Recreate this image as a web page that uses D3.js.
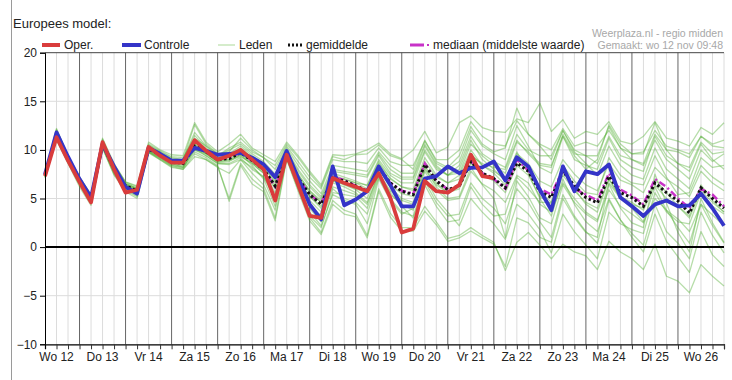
<!DOCTYPE html>
<html><head><meta charset="utf-8">
<script src="https://cdn.jsdelivr.net/npm/d3@7/dist/d3.min.js"></script>
<style>body{margin:0;background:#fff;} svg{display:block;font-family:"Liberation Sans",Arial,sans-serif;}</style>
</head><body><svg id="c" width="732" height="380"></svg>
<script>
// ---- data ----
const dayLabels = ["Wo 12","Do 13","Vr 14","Za 15","Zo 16","Ma 17","Di 18","Wo 19","Do 20","Vr 21","Za 22","Zo 23","Ma 24","Di 25","Wo 26"];
const yTicks = [20,15,10,5,0,-5,-10];
const startHour = 6, stepHours = 6, endHour = 360;
const legendLabels = ["Oper.","Controle","Leden","gemiddelde","mediaan (middelste waarde)"];
const sourceLines = ["Weerplaza.nl - regio midden","Gemaakt: wo 12 nov 09:48"];
const modelTitle = "Europees model:";

const oper = [7.3,11.3,8.9,6.7, 4.6,10.8,8.0,5.6, 5.9,10.3,9.4,8.7, 8.7,11.0,9.9,9.0, 9.4,10.0,9.0,8.0, 4.8,9.5,6.4,3.2, 3.0,7.1,6.6,6.2, 5.75,7.6,5.1,1.5, 1.9,6.8,5.75,5.6, 6.4,9.5,7.3,7.1];
const controle = [7.5,11.8,9.3,7.0, 5.1,10.6,8.3,6.2, 5.5,10.2,9.6,8.9, 8.9,10.2,9.9,9.5, 9.6,9.7,9.2,8.5, 7.2,9.9,7.1,4.4, 2.85,8.3,4.3,4.9, 5.75,8.3,6.4,4.2, 4.2,7.05,7.3,8.3, 7.6,8.15,8.2,8.8, 6.85,9.25,8.3,5.9, 3.8,8.3,5.75,7.8, 7.5,8.5,5.1,4.2, 3.2,4.4,4.8,4.2, 4.3,5.5,4.0,2.2];
const gemiddelde = [7.4,11.5,9.0,6.8, 5.0,10.6,8.0,6.3, 5.8,10.1,9.5,8.8, 8.6,10.4,9.8,9.0, 9.1,9.7,8.9,8.0, 6.3,9.35,7.1,5.4, 4.4,7.1,6.8,6.3, 5.75,8.2,6.6,5.75, 5.4,8.5,6.8,5.9, 6.3,8.8,7.6,7.05, 6.1,8.65,7.8,5.75, 5.1,7.8,6.3,5.1, 4.55,7.3,5.6,5.1, 4.2,6.6,5.6,4.75, 3.5,6.1,5.0,4.0];
const mediaan = [7.4,11.5,9.0,6.8, 5.0,10.6,8.0,6.2, 5.8,10.1,9.5,8.8, 8.6,10.3,9.8,9.0, 9.2,9.7,8.9,8.0, 6.2,9.3,7.1,5.4, 4.5,7.2,6.9,6.3, 5.8,8.2,6.6,5.8, 5.5,8.6,6.9,5.9, 6.3,8.9,7.6,7.0, 6.0,9.0,7.9,6.0, 5.4,8.0,6.0,5.4, 4.8,7.6,5.9,5.3, 4.4,7.0,6.2,5.0, 4.0,6.0,5.4,4.2];

const lid01 = [7.6,12.2,9.3,7.0, 5.2,11.0,8.4,6.6, 6.0,10.5,9.8,9.2, 9.0,12.6,10.6,9.6, 9.8,11.2,10.0,9.2, 8.4,10.6,9.2,7.6, 6.2,9.3,9.0,9.5, 9.6,10.5,9.4,9.0, 8.0,11.0,8.8,8.2, 9.4,12.4,10.6,9.8, 10.2,14.3,11.6,10.4, 9.0,12.0,10.0,9.4, 8.6,11.4,9.4,9.0, 8.4,11.0,9.0,8.0, 7.0,10.0,8.8,9.6];
const lid02 = [7.2,11.0,8.6,6.2, 4.3,10.2,7.4,5.7, 5.0,9.8,9.0,8.2, 8.0,9.3,9.0,8.3, 5.0,8.6,7.0,6.0, 3.0,9.2,6.0,3.0, 1.5,4.8,3.8,3.4, 1.2,6.0,3.5,2.0, 2.0,4.2,2.6,0.9, 1.2,2.0,1.2,0.5, -2.4,0.5,1.5,0.2, -1.2,0.3,-0.5,-0.9, -2.3,0.6,-0.5,-1.2, -2.3,0.3,-3.0,-3.5, -4.7,-1.8,-3.0,-4.0];
const lid03 = [7.5,11.7,9.1,6.9, 5.1,10.8,8.1,6.4, 5.9,10.3,9.6,8.9, 8.7,10.8,9.9,9.2, 9.3,10.0,9.1,8.2, 6.8,9.6,7.5,5.8, 4.8,7.6,7.2,6.8, 6.3,8.8,7.1,6.2, 6.0,9.2,7.4,6.6, 7.0,9.6,8.4,7.8, 7.0,9.6,8.6,6.8, 6.2,9.0,7.5,6.4, 5.8,8.6,6.9,6.4, 5.6,8.2,7.0,6.2, 5.2,7.8,6.6,5.8];
const lid04 = [7.3,11.3,8.9,6.6, 4.8,10.4,7.8,6.1, 5.5,9.9,9.3,8.6, 8.4,10.0,9.6,8.8, 8.9,9.3,8.6,7.6, 5.6,9.2,6.8,4.8, 3.6,6.6,6.2,5.6, 4.6,7.6,5.8,4.8, 4.4,7.8,5.9,4.8, 5.0,7.8,6.5,5.8, 4.6,7.4,6.6,4.4, 3.6,6.6,5.0,3.6, 2.8,5.9,4.2,3.4, 2.5,5.0,3.8,2.9, 1.6,4.4,3.3,2.2];
const lid05 = [7.7,12.0,9.4,7.2, 5.4,11.2,8.6,6.7, 6.3,10.8,10.0,9.5, 9.4,12.8,10.8,9.8, 10.6,11.6,10.2,9.5, 8.8,10.8,9.4,7.8, 6.4,9.5,9.4,9.6, 10.0,10.7,9.6,9.1, 10.0,11.9,9.7,10.3, 12.8,13.5,12.3,11.9, 11.8,13.2,12.8,14.8, 11.9,13.1,11.2,11.9, 11.6,12.9,10.9,10.6, 11.4,12.9,11.2,10.9, 10.4,12.3,11.6,12.8];
const lid06 = [7.4,11.4,9.0,6.7, 4.9,10.5,7.9,6.2, 5.7,10.0,9.4,8.6, 8.2,9.8,9.2,8.4, 4.7,8.4,6.5,5.7, 2.7,9.0,5.75,2.7, 1.3,4.4,3.4,3.1, 0.95,5.75,3.1,1.65, 1.65,3.7,2.3,0.6, 0.95,1.65,0.95,0.3, -2.0,3.0,2.5,1.0, 0.5,5.0,3.0,1.5, 1.0,6.5,4.0,2.5, 2.0,7.5,4.5,1.5, -0.5,5.0,2.5,0.5];
const lid07 = [7.6,11.9,9.2,7.1, 5.3,10.9,8.3,6.5, 6.1,10.4,9.7,9.0, 9.0,11.5,10.2,9.4, 10.0,10.6,9.6,8.8, 7.5,10.2,8.4,6.8, 5.5,8.4,8.2,8.0, 7.8,9.8,8.4,7.6, 7.6,10.6,8.6,8.0, 8.8,12.0,10.4,9.6, 9.0,12.5,10.4,8.2, 7.6,11.4,9.0,8.4, 8.0,11.2,9.0,8.2, 7.8,11.4,9.4,8.6, 8.2,10.8,9.6,9.8];
const lid08 = [7.1,11.2,8.7,6.4, 4.5,10.3,7.6,5.9, 5.3,9.8,9.1,8.4, 8.1,10.2,9.4,8.6, 8.5,9.0,8.2,7.2, 5.0,9.3,6.4,4.0, 2.6,6.0,5.0,4.6, 3.4,7.2,5.0,3.6, 3.2,6.8,4.6,3.2, 3.4,6.6,5.0,4.0, 2.4,6.0,4.6,2.6, 1.0,5.4,3.2,1.6, 0.4,4.8,2.8,1.4, 0.2,4.4,1.6,0.4, -1.2,3.6,1.2,-0.6];
const lid09 = [7.5,11.6,9.0,6.8, 5.0,10.6,8.0,6.3, 5.8,10.2,9.5,8.8, 8.8,11.0,10.0,9.2, 9.5,10.2,9.2,8.5, 7.0,9.8,7.8,6.2, 5.0,7.8,7.6,7.4, 7.2,9.4,7.6,7.0, 7.0,10.0,8.2,7.4, 8.0,11.0,9.0,8.0, 6.8,9.8,7.6,5.0, 3.2,7.0,4.4,2.6, 1.6,5.0,2.8,1.0, -0.5,3.4,0.6,-1.0, -2.6,1.6,-0.8,-2.0];
const lid10 = [7.3,11.4,8.8,6.7, 4.7,10.4,7.7,6.0, 5.6,9.9,9.2,8.5, 8.3,10.6,9.6,8.7, 8.8,9.5,8.4,7.0, 4.2,9.4,6.2,3.6, 2.2,5.4,4.8,4.4, 2.4,7.0,4.8,3.4, 4.0,8.0,6.4,5.6, 6.6,9.4,8.6,8.2, 8.0,11.0,9.6,8.4, 8.2,11.6,9.6,9.4, 9.4,12.4,10.2,9.0, 8.6,11.6,10.0,9.8, 9.2,11.4,10.4,10.2];
const lid11 = [7.4,11.5,9.0,6.8, 5.0,10.7,8.1,6.4, 5.8,10.2,9.5,8.8, 8.5,10.4,9.8,9.0, 9.0,9.6,8.7,7.8, 6.0,9.3,7.0,5.2, 4.0,6.8,6.4,5.9, 5.0,8.0,6.2,5.0, 4.6,8.2,6.2,5.0, 5.2,8.2,6.4,5.0, 1.0,6.8,5.2,3.0, 2.4,6.4,4.6,3.4, 2.6,6.6,5.0,4.4, 4.0,7.0,5.6,4.2, 3.2,6.4,4.8,3.6];
const lid12 = [7.5,11.8,9.2,7.0, 5.2,10.9,8.2,6.5, 6.0,10.4,9.7,9.1, 9.0,11.8,10.4,9.4, 10.2,10.8,9.8,9.2, 8.0,10.4,8.8,7.2, 6.0,9.0,8.8,8.8, 8.6,10.2,8.8,8.4, 8.4,10.9,9.0,9.0, 10.0,12.9,11.4,10.6, 10.4,13.0,11.6,10.6, 10.0,12.2,10.4,10.8, 10.4,12.0,10.2,9.6, 9.8,12.0,10.4,10.0, 9.6,11.4,10.6,11.0];
const lid13 = [7.2,11.1,8.7,6.5, 4.6,10.2,7.5,5.8, 5.2,9.7,9.0,8.3, 8.0,9.6,9.0,8.2, 7.6,9.0,7.6,6.4, 3.8,9.1,6.0,3.2, 2.0,5.6,5.4,5.2, 4.0,7.4,5.4,4.4, 3.8,7.2,5.0,3.6, 2.2,5.0,3.6,2.4, 0.8,4.4,3.4,1.8, -0.6,3.4,1.6,0.2, -1.2,3.6,2.4,1.8, 1.4,5.6,3.6,2.6, 2.4,5.6,4.2,3.4];
const lid14 = [7.6,12.1,9.4,7.2, 5.4,11.1,8.5,6.7, 6.2,10.6,9.9,9.3, 9.2,11.2,10.4,9.6, 9.6,10.4,9.4,8.6, 7.2,10.0,8.0,6.4, 5.2,8.0,7.8,7.6, 7.4,9.6,8.0,7.2, 7.2,10.4,8.4,7.4, 8.4,11.4,9.6,8.8, 8.2,11.6,10.0,9.4, 9.4,12.0,9.8,8.6, 7.4,10.4,8.4,7.4, 7.0,10.2,8.0,7.0, 6.0,9.2,8.2,8.4];
const lid15 = [7.3,11.6,9.0,6.9, 5.0,10.6,8.0,6.2, 5.8,10.1,9.4,8.7, 8.6,10.2,9.6,8.8, 9.0,9.4,8.6,7.6, 6.4,9.4,7.2,5.6, 4.6,7.4,7.0,6.6, 6.0,8.6,7.0,6.2, 5.8,8.8,7.2,6.6, 7.4,10.0,8.4,7.6, 6.4,9.0,7.8,5.8, 4.6,8.0,6.0,4.4, 3.6,7.0,5.0,4.0, 2.6,6.2,3.8,2.0, 0.4,4.4,2.2,0.4];
const lid16 = [7.4,11.4,8.9,6.7, 4.9,10.5,7.9,6.2, 5.7,10.0,9.4,8.7, 8.5,10.2,9.7,8.9, 9.2,9.6,8.8,7.8, 6.2,9.2,6.9,5.2, 4.2,6.8,6.5,6.0, 5.6,8.0,6.4,5.5, 5.2,8.4,6.6,5.6, 6.0,8.6,7.4,6.8, 5.6,8.4,7.4,5.2, 4.4,7.4,5.8,4.6, 4.0,7.0,5.2,4.6, 3.8,6.4,5.0,4.2, 3.0,5.8,4.6,3.6];
const lid17 = [7.5,11.5,9.1,6.9, 5.1,10.7,8.1,6.4, 5.9,10.3,9.6,8.9, 8.7,10.6,9.9,9.1, 9.4,9.9,9.0,8.2, 6.6,9.6,7.4,5.8, 4.6,7.2,7.0,6.6, 6.4,9.0,7.4,6.6, 6.6,9.8,8.0,7.4, 7.6,10.6,9.4,8.4, 7.6,10.8,9.8,8.6, 8.4,11.4,9.4,8.0, 9.0,12.6,10.6,9.6, 9.6,12.8,10.0,8.6, 7.8,10.6,9.0,8.0];
const lid18 = [7.2,11.2,8.8,6.6, 4.6,10.3,7.7,6.0, 5.4,9.8,9.2,8.4, 8.2,10.0,9.4,8.6, 8.6,9.2,8.0,7.2, 5.4,9.2,6.6,4.4, 3.2,6.2,5.8,5.4, 4.4,7.6,5.6,4.2, 3.0,6.4,4.2,2.6, 2.8,6.2,4.4,3.2, 3.4,7.2,6.0,4.6, 4.6,8.4,6.8,5.6, 5.4,9.2,7.4,6.6, 6.4,9.4,7.2,5.4, 5.6,8.4,7.2,6.4];
const leden = [lid01,lid02,lid03,lid04,lid05,lid06,lid07,lid08,lid09,lid10,lid11,lid12,lid13,lid14,lid15,lid16,lid17,lid18];

// ---- drawing ----
const svg = d3.select("#c");
svg.append("rect").attr("width",732).attr("height",380).attr("fill","#fff");

const x = d3.scaleLinear().domain([startHour, endHour]).range([45, 724]);
const y = d3.scaleLinear().domain([-10, 20]).range([344.3, 52.7]);
const hourOf = i => startHour + i * stepHours;

// left frame line
svg.append("line").attr("x1",11.5).attr("x2",11.5).attr("y1",0).attr("y2",380).attr("stroke","#9a9a9a");

svg.append("text").attr("x",13).attr("y",28).attr("font-size",13).attr("fill","#222").text(modelTitle);

const g = svg.append("g");
const [y0, y1] = y.range();
const steps = d3.range(startHour + stepHours, endHour + 1, stepHours);

// minor vertical grid
g.selectAll(".vminor").data(steps.filter(h => h % 24 !== 0 || h === endHour)).join("line")
  .attr("x1", d => x(d)).attr("x2", d => x(d)).attr("y1", y1).attr("y2", y0)
  .attr("stroke", "#dcdcdc").attr("stroke-width", 1);
// horizontal grid
g.selectAll(".hgrid").data(yTicks.filter(v => v !== 0 && v !== 20 && v !== -10)).join("line")
  .attr("x1", x.range()[0]).attr("x2", x.range()[1]).attr("y1", d => y(d)).attr("y2", d => y(d))
  .attr("stroke", "#dcdcdc");
// major vertical grid (midnight)
g.selectAll(".vmajor").data(steps.filter(h => h % 24 === 0 && h < endHour)).join("line")
  .attr("x1", d => x(d)).attr("x2", d => x(d)).attr("y1", y1).attr("y2", y0)
  .attr("stroke", "#666").attr("stroke-width", 1);
// top border
g.append("line").attr("x1", x.range()[0]).attr("x2", x.range()[1]).attr("y1", y(20)).attr("y2", y(20)).attr("stroke", "#444");

const line = d3.line().x((d, i) => x(hourOf(i))).y(d => y(d));

// members
g.selectAll(".lid").data(leden).join("path")
  .attr("d", line).attr("fill", "none")
  .attr("stroke", "rgb(80,175,50)").attr("stroke-opacity", 0.42).attr("stroke-width", 1.3)
  .attr("stroke-linejoin", "round");

// zero line
g.append("line").attr("x1", x.range()[0]).attr("x2", x.range()[1]).attr("y1", y(0)).attr("y2", y(0))
  .attr("stroke", "#000").attr("stroke-width", 2);

// median
g.append("path").datum(mediaan).attr("d", line).attr("fill","none")
  .attr("stroke","#c832c8").attr("stroke-width",2.5).attr("stroke-dasharray","7,3,2,3");
// mean
g.append("path").datum(gemiddelde).attr("d", line).attr("fill","none")
  .attr("stroke","#111").attr("stroke-width",3).attr("stroke-dasharray","2.5,2.5");
// control
g.append("path").datum(controle).attr("d", line).attr("fill","none")
  .attr("stroke","#3434c8").attr("stroke-width",3.8).attr("stroke-linejoin","round");
// operational
g.append("path").datum(oper).attr("d", line).attr("fill","none")
  .attr("stroke","#d93c3c").attr("stroke-width",3.8).attr("stroke-linejoin","round");

// axes
const yAxis = d3.axisLeft(y).tickValues(yTicks).tickSize(5).tickPadding(3).tickFormat(d3.format("d"));
const ya = svg.append("g").attr("transform", `translate(${x.range()[0]},0)`).call(yAxis);
ya.select(".domain").attr("stroke","#000");
ya.selectAll("text").attr("font-size",12).attr("fill","#222").attr("font-family","Liberation Sans, Arial, sans-serif");

const xAxis = d3.axisBottom(x).tickValues(steps).tickSize(5).tickFormat("");
const xa = svg.append("g").attr("transform", `translate(0,${y0})`).call(xAxis);
xa.select(".domain").attr("stroke","#000").attr("stroke-width",1.2);
xa.selectAll(".tick line").attr("stroke","#333");

svg.selectAll(".daylab").data(dayLabels).join("text")
  .attr("x", (d, i) => x(12 + i * 24)).attr("y", 361).attr("text-anchor","middle")
  .attr("font-size",12).attr("fill","#222").text(d => d);

// legend
const lg = svg.append("g").attr("font-size",12).attr("fill","#222");
const ly = 45;
lg.append("line").attr("x1",42).attr("x2",60).attr("y1",ly).attr("y2",ly).attr("stroke","#d93c3c").attr("stroke-width",4);
lg.append("text").attr("x",64).attr("y",ly+4).text(legendLabels[0]);
lg.append("line").attr("x1",122).attr("x2",141).attr("y1",ly).attr("y2",ly).attr("stroke","#3434c8").attr("stroke-width",4);
lg.append("text").attr("x",144).attr("y",ly+4).text(legendLabels[1]);
lg.append("line").attr("x1",218).attr("x2",235).attr("y1",ly).attr("y2",ly).attr("stroke","#b9dfa8").attr("stroke-width",1.2);
lg.append("text").attr("x",239).attr("y",ly+4).text(legendLabels[2]);
lg.append("line").attr("x1",288).attr("x2",302).attr("y1",ly).attr("y2",ly).attr("stroke","#111").attr("stroke-width",3).attr("stroke-dasharray","2,2");
lg.append("text").attr("x",306).attr("y",ly+4).text(legendLabels[3]);
lg.append("line").attr("x1",410).attr("x2",424).attr("y1",ly).attr("y2",ly).attr("stroke","#c832c8").attr("stroke-width",3);
lg.append("line").attr("x1",427).attr("x2",429).attr("y1",ly).attr("y2",ly).attr("stroke","#c832c8").attr("stroke-width",2);
lg.append("text").attr("x",433).attr("y",ly+4).text(legendLabels[4]);

// source text
svg.selectAll(".src").data(sourceLines).join("text")
  .attr("x",723).attr("y",(d,i)=>37+i*12).attr("text-anchor","end")
  .attr("font-size",10.5).attr("fill","#a8a8a8").text(d=>d);
</script></body></html>
